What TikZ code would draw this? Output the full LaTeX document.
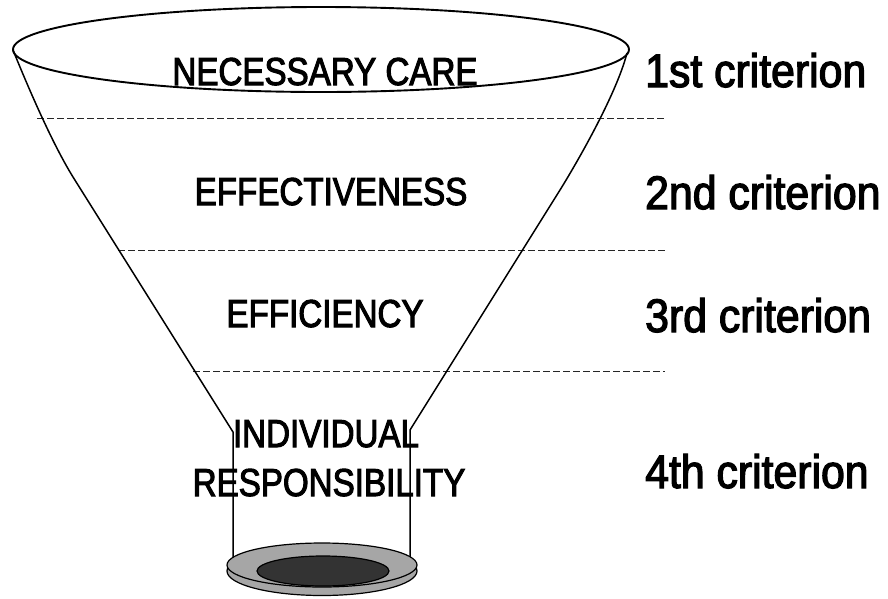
\documentclass[tikz,border=0pt]{standalone}
\usepackage{fontspec}
\newfontfamily\labfont[FakeStretch=0.85,FakeBold=2.6]{Liberation Sans}
\newfontfamily\critfont[FakeStretch=0.91,FakeBold=2.6]{Liberation Sans}
\begin{document}
\begin{tikzpicture}[x=1pt,y=-1pt,
  sideline/.style={line width=1.5pt, black},
  rimline/.style={line width=1.9pt, black},
  guide/.style={dash pattern=on 6.5pt off 3.5pt, line width=1pt, black!85},
  lab/.style={font=\labfont\fontsize{39}{44}\selectfont, inner sep=0pt, anchor=base},
  crit/.style={font=\critfont\fontsize{47}{52}\selectfont, inner sep=0pt, anchor=base west},
  ringfill/.style={fill=black!35, draw=black, line width=1.2pt},
  holefill/.style={fill=black!80, draw=black, line width=1.2pt}]
\useasboundingbox (0,0) rectangle (888,598);
% guide lines
\coordinate (g1a) at (37,118);  \coordinate (g1b) at (665,118);
\coordinate (g2a) at (118,250); \coordinate (g2b) at (665,250);
\coordinate (g3a) at (193,371); \coordinate (g3b) at (665,371);
\draw[guide] (g1a) -- (g1b);
\draw[guide] (g2a) -- (g2b);
\draw[guide] (g3a) -- (g3b);
% funnel sides
\coordinate (ltop) at (13,50);
\coordinate (lmid) at (73,177);
\coordinate (lneck) at (233,432);
\coordinate (lfoot) at (233,562);
\coordinate (rtop) at (627,53);
\coordinate (rmid) at (560,190);
\coordinate (rneck) at (410,430);
\coordinate (rfoot) at (410,560);
\draw[sideline] (ltop) .. controls (28,87) and (52,143) .. (lmid) -- (lneck) -- (lfoot);
\draw[sideline] (rtop) .. controls (617,92) and (581,156) .. (rmid) -- (rneck) -- (rfoot);
% top rim
\coordinate (rimc) at (321,49.5);
\draw[rimline] (rimc) ellipse [x radius=308, y radius=42.5];
% bottom disc
\coordinate (discb) at (322,571);
\coordinate (disct) at (322,565);
\coordinate (hole) at (323,571);
\draw[ringfill] (discb) ellipse [x radius=95, y radius=24.5];
\draw[ringfill] (disct) ellipse [x radius=95, y radius=22];
\draw[holefill] (hole) ellipse [x radius=66, y radius=15];
% labels
\node[lab] (care) at (325,85) {NECESSARY CARE};
\node[lab] (effect) at (331,205) {EFFECTIVENESS};
\node[lab] (effic) at (325,327) {EFFICIENCY};
\node[lab] (indiv) at (326,447) {INDIVIDUAL};
\node[lab] (resp) at (329,496) {RESPONSIBILITY};
\node[crit] (c1) at (645,87) {1st criterion};
\node[crit] (c2) at (645,209) {2nd criterion};
\node[crit] (c3) at (645,332) {3rd criterion};
\node[crit] (c4) at (645,488) {4th criterion};
\end{tikzpicture}
\end{document}
